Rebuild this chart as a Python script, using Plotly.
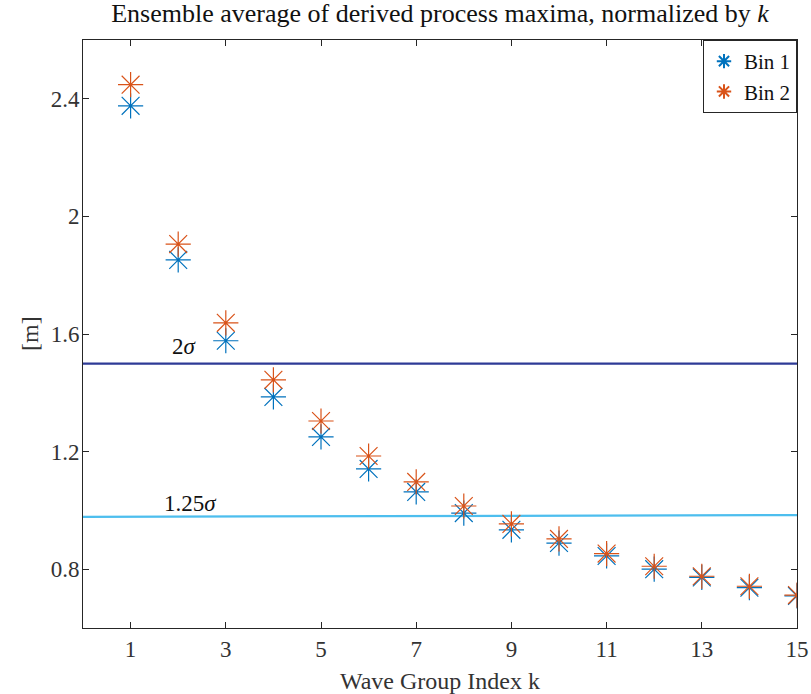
import plotly.graph_objects as go

k = list(range(1, 16))
bin1 = [2.376, 1.852, 1.577, 1.386, 1.250, 1.141, 1.063, 0.991, 0.934, 0.889, 0.845, 0.800, 0.772, 0.737, 0.709]
bin2 = [2.448, 1.906, 1.638, 1.444, 1.304, 1.185, 1.097, 1.015, 0.954, 0.903, 0.853, 0.810, 0.776, 0.742, 0.712]

line_x = [0, 15]
two_sigma = [1.499, 1.499]
one25_sigma = [0.978, 0.984]

xticks = [1, 3, 5, 7, 9, 11, 13, 15]
yticks = [0.8, 1.2, 1.6, 2.0, 2.4]
ytick_text = ["0.8", "1.2", "1.6", "2", "2.4"]

FONT = "Liberation Serif"
AX = "#262626"
TXT = "#222222"

fig = go.Figure()
fig.add_trace(go.Scatter(x=line_x, y=two_sigma, mode="lines",
                         line=dict(color="#2E3A96", width=2.2), showlegend=False, hoverinfo="skip"))
fig.add_trace(go.Scatter(x=line_x, y=one25_sigma, mode="lines",
                         line=dict(color="#4DBEEE", width=2.2), showlegend=False, hoverinfo="skip"))
fig.add_trace(go.Scatter(x=k, y=bin1, mode="markers", name="Bin 1",
                         marker=dict(symbol="asterisk-open", size=21,
                                     line=dict(color="#0072BD", width=1.2), color="#0072BD")))
fig.add_trace(go.Scatter(x=k, y=bin2, mode="markers", name="Bin 2",
                         marker=dict(symbol="asterisk-open", size=21,
                                     line=dict(color="#D95319", width=1.2), color="#D95319")))

fig.add_annotation(x=2.13, y=1.556, text="2<i>σ</i>", showarrow=False,
                   font=dict(family=FONT, size=23, color="#111"))
fig.add_annotation(x=2.26, y=1.025, text="1.25<i>σ</i>", showarrow=False,
                   font=dict(family=FONT, size=23, color="#111"))
# y-axis title placed close to the tick labels, as in the reference
fig.add_annotation(xref="paper", yref="paper", x=-53 / 714, y=0.5, text="[m]", textangle=-90,
                   showarrow=False, xanchor="center", yanchor="middle",
                   font=dict(family=FONT, size=24, color="#333"))

fig.update_layout(
    width=811, height=694,
    margin=dict(l=83, r=14, t=40, b=66, autoexpand=False),
    paper_bgcolor="white", plot_bgcolor="white",
    font=dict(family=FONT, size=22, color=TXT),
    title=dict(text="Ensemble average of derived process maxima, normalized by <i>k</i>",
               x=440 / 811, xanchor="center", y=1 - 13 / 694, yanchor="middle",
               font=dict(family=FONT, size=26, color="#111")),
    legend=dict(x=1, y=1, xanchor="right", yanchor="top", bgcolor="white",
                bordercolor=AX, borderwidth=1, font=dict(family=FONT, size=21, color="#111"),
                itemsizing="constant", tracegroupgap=0, entrywidth=98),
    xaxis=dict(range=[0, 15], tickvals=xticks, ticks="inside", ticklen=6, tickcolor=AX,
               showline=True, linecolor=AX, linewidth=1, mirror="ticks", showgrid=False,
               zeroline=False, automargin=False,
               title=dict(text="Wave Group Index k", standoff=14,
                          font=dict(family=FONT, size=24, color="#333")),
               tickfont=dict(family=FONT, size=23, color="#333")),
    yaxis=dict(range=[0.6, 2.6], tickvals=yticks, ticktext=ytick_text, ticks="inside", ticklen=6,
               tickcolor=AX, showline=True, linecolor=AX, linewidth=1, mirror="ticks",
               showgrid=False, zeroline=False, ticklabelstandoff=-2, automargin=False,
               tickfont=dict(family=FONT, size=23, color="#333")),
)

fig.write_html("out.html")
